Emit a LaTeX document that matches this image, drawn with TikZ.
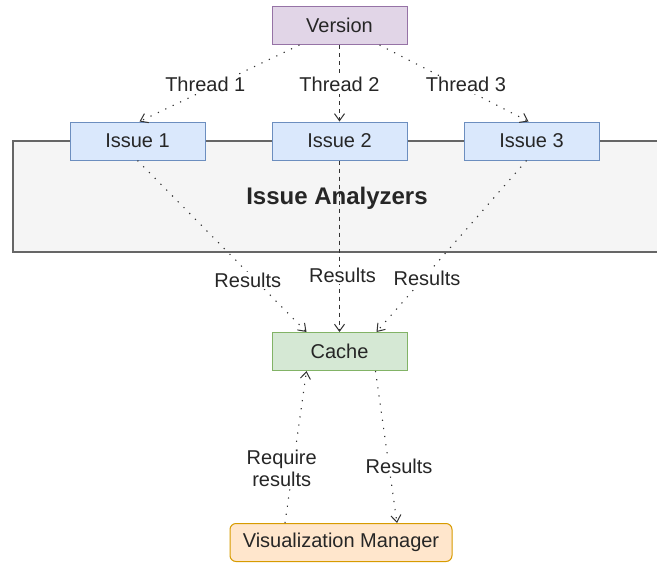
\documentclass[tikz,border=0pt]{standalone}
\usepackage{fontspec}
\setmainfont{Liberation Sans}
\usetikzlibrary{arrows.meta}
\definecolor{verF}{HTML}{E1D5E7}\definecolor{verD}{HTML}{9673A6}
\definecolor{issF}{HTML}{DAE8FC}\definecolor{issD}{HTML}{6C8EBF}
\definecolor{cacF}{HTML}{D5E8D4}\definecolor{cacD}{HTML}{82B366}
\definecolor{visF}{HTML}{FFE6CC}\definecolor{visD}{HTML}{D79B00}
\definecolor{grpF}{HTML}{F5F5F5}\definecolor{grpD}{HTML}{666666}
\definecolor{lineC}{HTML}{333333}
\tikzset{
  box/.style={draw, line width=1pt, minimum width=135pt, minimum height=38pt, inner sep=0pt, text=black!85, font=\fontsize{20}{22}\selectfont},
  dotline/.style={draw=lineC, line width=1.1pt, dash pattern=on 1.2pt off 7pt, -{Straight Barb[length=7pt,width=10pt,line width=1pt]}},
  dashline/.style={draw=lineC, line width=1pt, dash pattern=on 4pt off 4pt, -{Straight Barb[length=7pt,width=10pt,line width=1pt]}},
  lbl/.style={fill=white, inner sep=1.5pt, text=black!85, font=\fontsize{20}{22}\selectfont, align=center}
}
\begin{document}
\begin{tikzpicture}[x=1pt,y=-1pt]
\useasboundingbox (0,0) rectangle (657,563);
% group
\fill[grpF] (13,141) rectangle (657,252);
\draw[grpD, line width=1.2pt] (657,141) -- (13,141) -- (13,252) -- (657,252);
\node[font=\fontsize{24}{26}\selectfont\bfseries, text=black!85] (grp) at (337,198) {Issue Analyzers};
% nodes
\node[box, fill=verF, draw=verD] (ver) at (339.5,25.5) {Version};
\node[box, fill=issF, draw=issD] (i1) at (137.5,141) {Issue 1};
\node[box, fill=issF, draw=issD] (i2) at (339.5,141) {Issue 2};
\node[box, fill=issF, draw=issD] (i3) at (531.5,141) {Issue 3};
\node[box, fill=cacF, draw=cacD] (cache) at (339.5,351.5) {Cache};
\node[box, fill=visF, draw=visD, minimum width=222pt, rounded corners=6pt] (vis) at (341,542.5) {Visualization Manager};
% connectors
\draw[dotline] ([xshift=-40pt]ver.south) -- node[lbl, pos=0.52, xshift=-11pt]{Thread 1} ([xshift=2pt]i1.north);
\draw[dashline] (ver.south) -- node[lbl, pos=0.52]{Thread 2} (i2.north);
\draw[dotline] ([xshift=40pt]ver.south) -- node[lbl, pos=0.52, xshift=9pt]{Thread 3} ([xshift=-3pt]i3.north);
\draw[dotline] (i1.south) -- node[lbl, pos=0.7, xshift=-8pt]{Results} ([xshift=-33pt]cache.north);
\draw[dashline] (i2.south) -- node[lbl, pos=0.67, xshift=3pt]{Results} (cache.north);
\draw[dotline] ([xshift=-5pt]i3.south) -- node[lbl, pos=0.69, xshift=4pt]{Results} ([xshift=37pt]cache.north);
\draw[dotline] ([xshift=-56pt]vis.north) -- node[lbl, pos=0.36, xshift=-11pt]{Require\\results} ([xshift=-33pt]cache.south);
\draw[dotline] ([xshift=36pt]cache.south) -- node[lbl, pos=0.63, xshift=10pt]{Results} ([xshift=56pt]vis.north);
\end{tikzpicture}
\end{document}
